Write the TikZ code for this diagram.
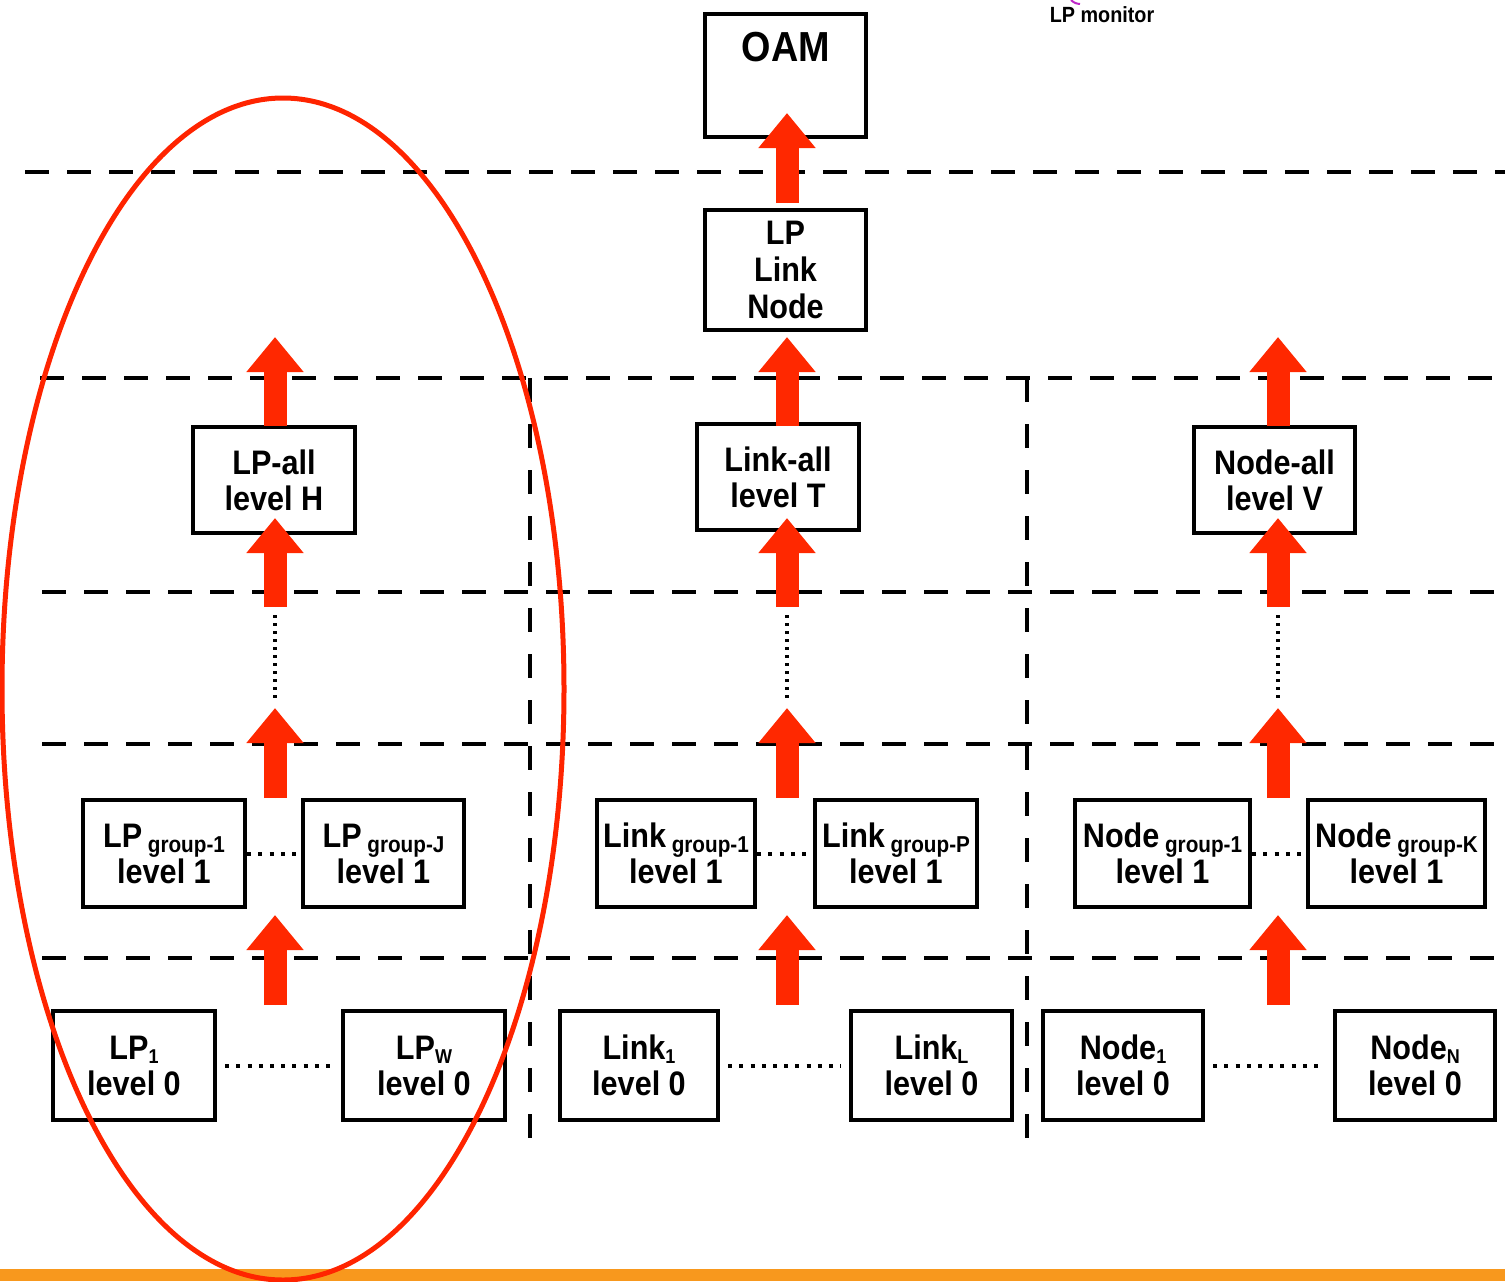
\documentclass[tikz,border=0pt]{standalone}
\usepackage{fontspec}
\setmainfont{Liberation Sans}[FakeStretch=0.9]
\usetikzlibrary{arrows.meta}

\definecolor{arrowred}{RGB}{255,40,0}
\definecolor{ringred}{RGB}{255,36,0}
\definecolor{barorange}{RGB}{248,152,29}
\definecolor{markmagenta}{RGB}{190,40,200}

% lowered group tag and index after a name
\newcommand{\grp}[1]{\,{\fontsize{11.5}{12}\selectfont\raisebox{-2.5pt}{#1}}}
\newcommand{\idx}[1]{{\fontsize{10}{10}\selectfont\raisebox{-2pt}{#1}}}

\begin{document}
\begin{tikzpicture}[x=0.5pt,y=-0.5pt,
  box/.style={draw, line width=2.2pt, inner sep=0pt, align=center,
    font=\bfseries\fontsize{17}{18}\selectfont},
  layer/.style={line width=2.2pt, dash pattern=on 12pt off 9pt},
  split/.style={line width=2.2pt, dash pattern=on 12pt off 11pt},
  dots/.style={line width=2pt, dash pattern=on 2pt off 3.6pt},
  vdots/.style={line width=1.6pt, dash pattern=on 1.6pt off 2.4pt},
  uparrow/.style={draw=arrowred, line width=11.5pt,
    -{Triangle[width=27.5pt,length=17.5pt]}, fill=arrowred},
  ring/.style={draw=ringred, line width=2.5pt}]

\useasboundingbox (0,0) rectangle (1505,1281);

% layer separators
\draw[layer] (25,172) -- (1505,172);
\draw[layer] (40,378) -- (1505,378);
\draw[layer] (42,592) -- (1505,592);
\draw[layer] (42,744) -- (1505,744);
\draw[layer] (42,958) -- (1505,958);
\draw[split] (530,378) -- (530,1155);
\draw[split] (1027,378) -- (1027,1155);

% top of the hierarchy
\node[box, minimum width=80.5pt, minimum height=61.5pt] (oam) at (785.5,75.5) {};
\node[font=\bfseries\fontsize{21}{22}\selectfont, inner sep=0pt, anchor=north]
  (oamtext) at (786,32) {OAM};
\node[box, minimum width=80.5pt, minimum height=60pt,
  font=\bfseries\fontsize{17}{18.5}\selectfont] (lln) at (785.5,270) {LP\\Link\\Node};

% level H / T / V
\node[box, minimum width=81pt, minimum height=53pt] (lpall) at (274,480) {LP-all\\level H};
\node[box, minimum width=81pt, minimum height=53pt] (linkall) at (778,477) {Link-all\\level T};
\node[box, minimum width=80.5pt, minimum height=53pt] (nodeall) at (1274.5,480) {Node-all\\level V};

% level 1 groups
\node[box, minimum width=81pt, minimum height=53.5pt] (lpg1) at (164,853.5) {LP\grp{group-1}\\level 1};
\node[box, minimum width=80.5pt, minimum height=53.5pt] (lpgJ) at (383.5,853.5) {LP\grp{group-J}\\level 1};
\node[box, minimum width=79pt, minimum height=53.5pt] (lkg1) at (676,853.5) {Link\grp{group-1}\\level 1};
\node[box, minimum width=81pt, minimum height=53.5pt] (lkgP) at (896,853.5) {Link\grp{group-P}\\level 1};
\node[box, minimum width=87.5pt, minimum height=53.5pt] (ndg1) at (1162.5,853.5) {Node\grp{group-1}\\level 1};
\node[box, minimum width=88.5pt, minimum height=53.5pt] (ndgK) at (1396.5,853.5) {Node\grp{group-K}\\level 1};

% level 0 members
\node[box, minimum width=81pt, minimum height=54.5pt] (lp1) at (134,1065.5) {LP\idx{1}\\level 0};
\node[box, minimum width=81pt, minimum height=54.5pt] (lpW) at (424,1065.5) {LP\idx{W}\\level 0};
\node[box, minimum width=79pt, minimum height=54.5pt] (lk1) at (639,1065.5) {Link\idx{1}\\level 0};
\node[box, minimum width=80.5pt, minimum height=54.5pt] (lkL) at (931.5,1065.5) {Link\idx{L}\\level 0};
\node[box, minimum width=80pt, minimum height=54.5pt] (nd1) at (1123,1065.5) {Node\idx{1}\\level 0};
\node[box, minimum width=80pt, minimum height=54.5pt] (ndN) at (1415,1065.5) {Node\idx{N}\\level 0};

% elided siblings
\draw[dots] (lpg1.east) -- (lpgJ.west);
\draw[dots] (lkg1.east) -- (lkgP.west);
\draw[dots] (ndg1.east) -- (ndgK.west);
\draw[dots, shorten <=4pt, shorten >=4pt] (lp1.east) -- (lpW.west);
\draw[dots, shorten <=4pt, shorten >=4pt] (lk1.east) -- (lkL.west);
\draw[dots, shorten <=4pt, shorten >=4pt] (nd1.east) -- (ndN.west);

% arrow end points, one column per family
\foreach \c/\n in {275/lp, 787/lk, 1278/nd} {
  \coordinate (\n Atip) at (\c,337);
  \coordinate (\n Abase) at (\c,426);
  \coordinate (\n Btip) at (\c,518);
  \coordinate (\n Bbase) at (\c,607);
  \coordinate (\n Ctip) at (\c,708);
  \coordinate (\n Cbase) at (\c,798);
  \coordinate (\n Dtip) at (\c,915);
  \coordinate (\n Dbase) at (\c,1005);
}
\coordinate (oamtip) at (787,113);
\coordinate (oambase) at (787,203);

% elided intermediate levels
\foreach \n in {lp, lk, nd}
  \draw[vdots, shorten <=4pt, shorten >=4pt] (\n Bbase) -- (\n Ctip);

% aggregation arrows
\draw[uparrow] (oambase) -- (oamtip);
\foreach \n in {lp, lk, nd} {
  \draw[uparrow] (\n Abase) -- (\n Atip);
  \draw[uparrow] (\n Bbase) -- (\n Btip);
  \draw[uparrow] (\n Cbase) -- (\n Ctip);
  \draw[uparrow] (\n Dbase) -- (\n Dtip);
}

% footer bar
\fill[barorange] (0,1269) rectangle (1505,1281);

% LP monitor highlight
\draw[ring] (283,689) ellipse [x radius=140.5pt, y radius=295.5pt];
\node[font=\bfseries\fontsize{11}{12}\selectfont, inner sep=0pt] (monitor) at (1102,15) {LP monitor};
\draw[markmagenta, line width=1pt] (1071,0) to[bend right=20] (1080,4);

\end{tikzpicture}
\end{document}
